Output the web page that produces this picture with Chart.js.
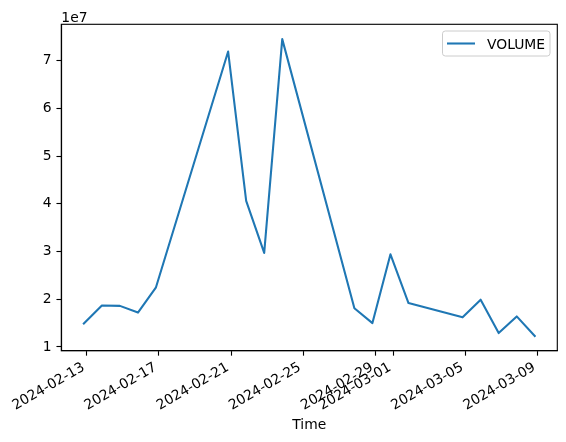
<!DOCTYPE html>
<html>
<head>
<meta charset="utf-8">
<script src="https://cdn.jsdelivr.net/npm/chart.js@4/dist/chart.umd.min.js"></script>
<style>
  html, body { margin: 0; padding: 0; background: #ffffff; }
  canvas { display: block; }
</style>
</head>
<body>
<canvas id="c" width="566" height="442"></canvas>
<script>
// ---- data ----
const dates = [
  '2024-02-12T20:00', '2024-02-13T20:00', '2024-02-14T20:00', '2024-02-15T20:00', '2024-02-16T20:00',
  '2024-02-20T20:00', '2024-02-21T20:00', '2024-02-22T20:00', '2024-02-23T20:00',
  '2024-02-27T20:00', '2024-02-28T20:00', '2024-02-29T20:00', '2024-03-01T20:00',
  '2024-03-04T20:00', '2024-03-05T20:00', '2024-03-06T20:00', '2024-03-07T20:00', '2024-03-08T20:00'
];
const volume = [
  14900000, 18700000, 18600000, 17200000, 22500000,
  71900000, 40600000, 29700000, 74500000,
  18100000, 15000000, 29400000, 19200000,
  16200000, 19900000, 12900000, 16400000, 12300000
];
const xTickLabels = ['2024-02-13', '2024-02-17', '2024-02-21', '2024-02-25', '2024-02-29', '2024-03-01', '2024-03-05', '2024-03-09'];
const yTickLabels = ['1', '2', '3', '4', '5', '6', '7'];
const yScaleExponent = 7;
const seriesName = 'VOLUME';
const xTitle = 'Time';

// ---- helpers ----
const toMs = s => new Date((s.length === 10 ? s + 'T00:00' : s) + ':00Z').getTime();
const xs = dates.map(toMs);
const points = xs.map((x, i) => ({ x: x, y: volume[i] }));
const yFactor = Math.pow(10, yScaleExponent);

// matplotlib-like 5% autoscale margins
const xmin0 = Math.min(...xs), xmax0 = Math.max(...xs);
const ymin0 = Math.min(...volume), ymax0 = Math.max(...volume);
const xm = (xmax0 - xmin0) * 0.05, ym = (ymax0 - ymin0) * 0.05;

const FONT = 'DejaVu Sans';
const FS = 13.89;
const PAD = 4.86;     // 3.5 pt
const TICKLEN = 4.86; // 3.5 pt
const LW = 1.11;      // 0.8 pt
const BLUE = '#1f77b4';

Chart.defaults.font.family = FONT;
Chart.defaults.font.size = FS;
Chart.defaults.color = '#000000';

const decorPlugin = {
  id: 'decor',
  afterDraw(chart) {
    const ctx = chart.ctx;
    const a = chart.chartArea;
    const xs_ = chart.scales.x;
    ctx.save();
    // frame (top/right spines)
    ctx.strokeStyle = '#000';
    ctx.lineWidth = LW;
    ctx.strokeRect(a.left, a.top, a.right - a.left, a.bottom - a.top);

    // x tick labels, rotated 30deg, aligned like matplotlib (ha=right, va=top)
    ctx.font = FS + 'px "' + FONT + '"';
    ctx.fillStyle = '#000';
    ctx.textAlign = 'left';
    ctx.textBaseline = 'alphabetic';
    const c = Math.cos(Math.PI / 6), s = Math.sin(Math.PI / 6);
    const h = 13.6, d = 3.1;
    const y0 = a.bottom + TICKLEN + PAD;
    xs_.ticks.forEach(t => {
      const label = t.label;
      const px = xs_.getPixelForValue(t.value);
      const w = ctx.measureText(label).width;
      const blx = px - w * c;
      const bly = y0 + w * s + h * c;
      ctx.save();
      ctx.translate(blx, bly);
      ctx.rotate(-Math.PI / 6);
      ctx.fillText(label, 0, -d);
      ctx.restore();
    });

    // offset text "1e7"
    ctx.textAlign = 'left';
    ctx.fillText('1e' + yScaleExponent, a.left, 21.7);

    // legend
    const lx = 442.5, ly = 31, lw = 107.5, lh = 25, r = 2.8;
    ctx.beginPath();
    ctx.moveTo(lx + r, ly);
    ctx.lineTo(lx + lw - r, ly);
    ctx.arcTo(lx + lw, ly, lx + lw, ly + r, r);
    ctx.lineTo(lx + lw, ly + lh - r);
    ctx.arcTo(lx + lw, ly + lh, lx + lw - r, ly + lh, r);
    ctx.lineTo(lx + r, ly + lh);
    ctx.arcTo(lx, ly + lh, lx, ly + lh - r, r);
    ctx.lineTo(lx, ly + r);
    ctx.arcTo(lx, ly, lx + r, ly, r);
    ctx.closePath();
    ctx.fillStyle = 'rgba(255,255,255,0.8)';
    ctx.fill();
    ctx.strokeStyle = '#cccccc';
    ctx.lineWidth = 1;
    ctx.stroke();
    const ds = chart.data.datasets[0];
    ctx.beginPath();
    ctx.moveTo(447, 43.5);
    ctx.lineTo(475, 43.5);
    ctx.strokeStyle = ds.borderColor;
    ctx.lineWidth = 2.08;
    ctx.stroke();
    ctx.fillStyle = '#000';
    ctx.fillText(ds.label, 487, 48.5);
    ctx.restore();
  }
};

new Chart(document.getElementById('c'), {
  type: 'line',
  data: {
    datasets: [{
      label: seriesName,
      data: points,
      borderColor: BLUE,
      backgroundColor: BLUE,
      borderWidth: 2.08,
      pointRadius: 0,
      tension: 0,
      fill: false,
      borderJoinStyle: 'round',
      borderCapStyle: 'square'
    }]
  },
  options: {
    responsive: false,
    animation: false,
    devicePixelRatio: 1,
    layout: { padding: { top: 24.3, right: 8.7, left: 0, bottom: 0 } },
    plugins: { legend: { display: false }, tooltip: { enabled: false } },
    scales: {
      x: {
        type: 'linear',
        min: xmin0 - xm,
        max: xmax0 + xm,
        afterBuildTicks: sc => { sc.ticks = xTickLabels.map(l => ({ value: toMs(l) })); },
        afterFit: sc => { sc.height = 442 - 350.8; },
        ticks: {
          display: false,
          autoSkip: false,
          callback: (v) => xTickLabels[xTickLabels.map(toMs).indexOf(v)]
        },
        grid: { drawOnChartArea: false, drawTicks: true, tickLength: TICKLEN, tickColor: '#000', tickWidth: LW },
        border: { display: true, color: '#000', width: LW },
        title: {
          display: true, text: xTitle, color: '#000',
          font: { family: FONT, size: FS },
          padding: { top: 0, bottom: 8.5 }
        }
      },
      y: {
        type: 'linear',
        min: ymin0 - ym,
        max: ymax0 + ym,
        afterBuildTicks: sc => { sc.ticks = yTickLabels.map(l => ({ value: Number(l) * yFactor })); },
        afterFit: sc => { sc.width = 61.3; },
        ticks: {
          autoSkip: false,
          padding: PAD,
          color: '#000',
          font: { family: FONT, size: FS },
          callback: (v) => yTickLabels[yTickLabels.map(l => Number(l) * yFactor).indexOf(v)]
        },
        grid: { drawOnChartArea: false, drawTicks: true, tickLength: TICKLEN, tickColor: '#000', tickWidth: LW },
        border: { display: true, color: '#000', width: LW }
      }
    }
  },
  plugins: [decorPlugin]
});
</script>
</body>
</html>
